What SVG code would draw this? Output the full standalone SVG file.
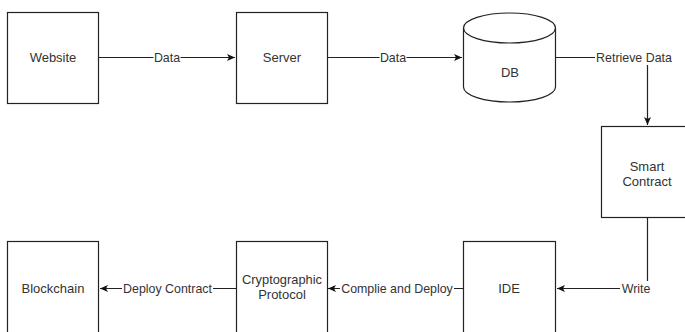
<svg xmlns="http://www.w3.org/2000/svg" width="685" height="332" viewBox="0 0 685 332">
<defs>
<style>
.box{fill:#fff;stroke:#222;stroke-width:1.2}
.edge{fill:none;stroke:#222;stroke-width:1.2}
.nt{font-family:"Liberation Sans",Arial,sans-serif;font-size:13px;fill:#333;text-anchor:middle}
.et{font-family:"Liberation Sans",Arial,sans-serif;font-size:12.4px;fill:#333;text-anchor:middle;dominant-baseline:central}
.lb{fill:#fff}
</style>
<marker id="arr" markerUnits="userSpaceOnUse" markerWidth="10" markerHeight="10" refX="8" refY="4" orient="auto">
<path d="M0,0.5 L8,4 L0,7.5 L2,4 z" fill="#111"/>
</marker>
</defs>
<rect width="685" height="332" fill="#fff"/>
<g id="connectors">
<path class="edge" d="M99,57.5 H235" marker-end="url(#arr)"/>
<path class="edge" d="M327,57.5 H462" marker-end="url(#arr)"/>
<path class="edge" d="M555,57.5 H647.5 V125" marker-end="url(#arr)"/>
<path class="edge" d="M647.5,218 V288.5 H557" marker-end="url(#arr)"/>
<path class="edge" d="M463,288.5 H328" marker-end="url(#arr)"/>
<path class="edge" d="M236,288.5 H100" marker-end="url(#arr)"/>
<rect class="lb" x="153.5" y="50" width="27" height="15"/>
<text class="et" x="167" y="58">Data</text>
<rect class="lb" x="379.5" y="50" width="27" height="15"/>
<text class="et" x="393" y="58">Data</text>
<rect class="lb" x="595" y="50" width="78" height="15"/>
<text class="et" x="634" y="58">Retrieve Data</text>
<rect class="lb" x="620" y="281" width="32" height="15"/>
<text class="et" x="636" y="289">Write</text>
<rect class="lb" x="340" y="281" width="114" height="15"/>
<text class="et" x="397" y="289">Complie and Deploy</text>
<rect class="lb" x="122" y="281" width="91" height="15"/>
<text class="et" x="167.5" y="289">Deploy Contract</text>
</g>
<g id="website">
<rect class="box" x="7.5" y="12.5" width="91" height="91"/>
<text class="nt" x="53" y="62">Website</text>
</g>
<g id="server">
<rect class="box" x="236.5" y="12.5" width="91" height="91"/>
<text class="nt" x="282" y="62">Server</text>
</g>
<g id="db">
<path class="box" d="M463.5,28 A46,15 0 0 1 555.5,28 V87 A46,15 0 0 1 463.5,87 Z"/>
<path class="edge" d="M463.5,28 A46,15 0 0 0 555.5,28"/>
<text class="nt" x="510" y="77">DB</text>
</g>
<g id="smart-contract">
<rect class="box" x="601.5" y="126.5" width="91" height="91"/>
<text class="nt" x="647" y="171">Smart</text>
<text class="nt" x="647" y="186">Contract</text>
</g>
<g id="ide">
<rect class="box" x="463.5" y="241.5" width="92" height="92"/>
<text class="nt" x="509" y="293">IDE</text>
</g>
<g id="cryptographic-protocol">
<rect class="box" x="236.5" y="241.5" width="91" height="92"/>
<text class="nt" x="282" y="284" textLength="80" lengthAdjust="spacingAndGlyphs">Cryptographic</text>
<text class="nt" x="282" y="299">Protocol</text>
</g>
<g id="blockchain">
<rect class="box" x="7.5" y="241.5" width="91" height="92"/>
<text class="nt" x="53" y="293">Blockchain</text>
</g>
</svg>
